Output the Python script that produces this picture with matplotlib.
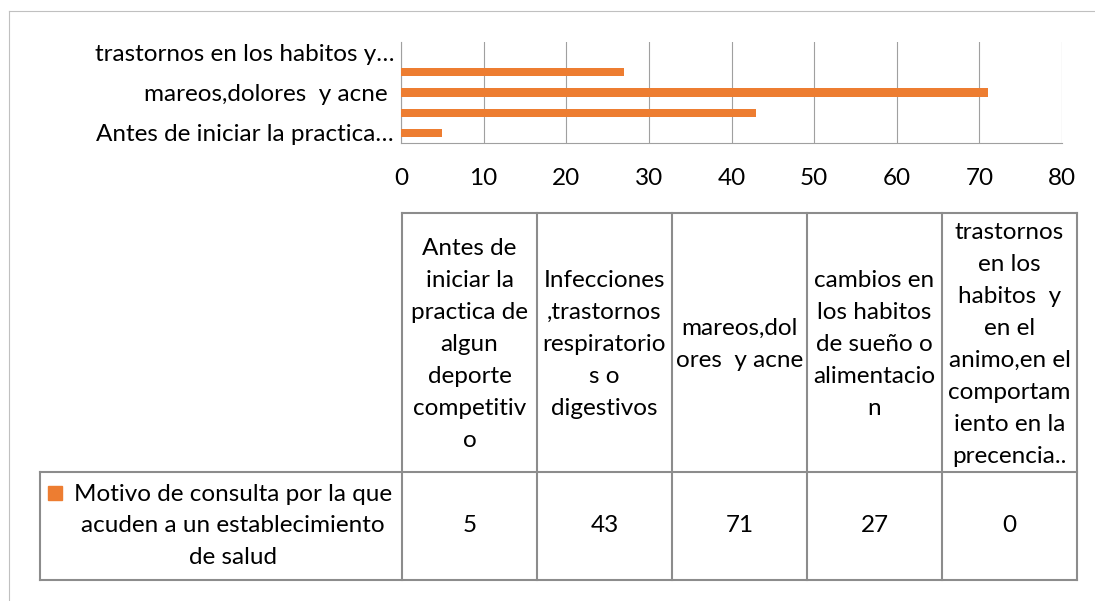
import matplotlib
matplotlib.use("Agg")
import matplotlib.pyplot as plt
from matplotlib.lines import Line2D
from matplotlib.patches import Rectangle

plt.rcParams['font.family'] = ['Lato', 'DejaVu Sans']

# series
series_name = "Motivo de consulta por la que\nacuden a un establecimiento\nde salud"
values = [5, 43, 71, 27, 0]

# column headers of the data table (wrapped as they appear in the cells)
table_headers = [
    "Antes de\niniciar la\npractica de\nalgun\ndeporte\ncompetitiv\no",
    "Infecciones\n,trastornos\nrespiratorio\ns o\ndigestivos",
    "mareos,dol\nores  y acne",
    "cambios en\nlos habitos\nde sueño o\nalimentacio\nn",
    "trastornos\nen los\nhabitos  y\nen el\nanimo,en el\ncomportam\niento en la\nprecencia..",
]

# category axis labels (Excel only shows every other one)
axis_labels = [
    "Antes de iniciar la practica…",
    "",
    "mareos,dolores  y acne ",
    "",
    "trastornos en los habitos y…",
]
x_ticks = [0, 10, 20, 30, 40, 50, 60, 70, 80]

ORANGE = "#ED7D31"
GRID = "#a0a0a0"
BORDER = "#8c8c8c"
FS = 17.5
LS = 1.64

W, H = 1095, 601
fig = plt.figure(figsize=(W / 100, H / 100), dpi=100)


def fr(x0, y0, x1, y1):
    # pixel box (top-left origin) -> figure fraction rect
    return [x0 / W, (H - y1) / H, (x1 - x0) / W, (y1 - y0) / H]


# bar chart
ax = fig.add_axes(fr(401, 42, 1062, 143))
ypos = list(range(len(values)))
ax.barh(ypos, values, height=0.4, color=ORANGE, zorder=3)
ax.set_xlim(0, 80)
ax.set_ylim(-0.5, len(values) - 0.5)
ax.set_xticks(x_ticks)
ax.set_xticklabels([str(t) for t in x_ticks])
ax.set_yticks(ypos)
ax.set_yticklabels(axis_labels)
ax.tick_params(axis='both', length=0, labelsize=FS, colors='black')
ax.tick_params(axis='x', pad=18)
ax.tick_params(axis='y', pad=5)
ax.grid(axis='x', color=GRID, lw=0.8, zorder=0)
for s in ['top', 'right']:
    ax.spines[s].set_visible(False)
for s in ['left', 'bottom']:
    ax.spines[s].set_color(GRID)
    ax.spines[s].set_linewidth(0.8)

# data table under the chart, drawn on a pixel-coordinate overlay
tab = fig.add_axes([0, 0, 1, 1], zorder=-1)
tab.set_xlim(0, W)
tab.set_ylim(H, 0)
tab.axis('off')

# chart area border
tab.add_line(Line2D([9, W], [11, 11], color='#c0c0c0', lw=0.8))
tab.add_line(Line2D([9, 9], [11, H], color='#c0c0c0', lw=0.8))

legend_left = 40
col_left = 402
col_w = 135
head_top, row_top, row_bot = 213, 472, 580
col_edges = [col_left + i * col_w for i in range(len(values) + 1)]
right = col_edges[-1]

lkw = dict(color=BORDER, lw=1.5, solid_capstyle='projecting')
tab.add_line(Line2D([col_left, right], [head_top, head_top], **lkw))
tab.add_line(Line2D([legend_left, right], [row_top, row_top], **lkw))
tab.add_line(Line2D([legend_left, right], [row_bot, row_bot], **lkw))
tab.add_line(Line2D([legend_left, legend_left], [row_top, row_bot], **lkw))
for xe in col_edges:
    tab.add_line(Line2D([xe, xe], [head_top, row_bot], **lkw))

for i, (hdr, v) in enumerate(zip(table_headers, values)):
    cx = (col_edges[i] + col_edges[i + 1]) / 2
    tab.text(cx, (head_top + row_top) / 2 + 2, hdr, ha='center', va='center',
             fontsize=FS, linespacing=LS, multialignment='center')
    tab.text(cx, (row_top + row_bot) / 2, str(v), ha='center', va='center',
             fontsize=FS)

# legend key + series name
tab.add_patch(Rectangle((48, 486), 14, 14, color=ORANGE))
tab.text(233, (row_top + row_bot) / 2, series_name, ha='center', va='center',
         fontsize=FS, linespacing=LS, multialignment='center')

fig.savefig("out.png", dpi=100)
